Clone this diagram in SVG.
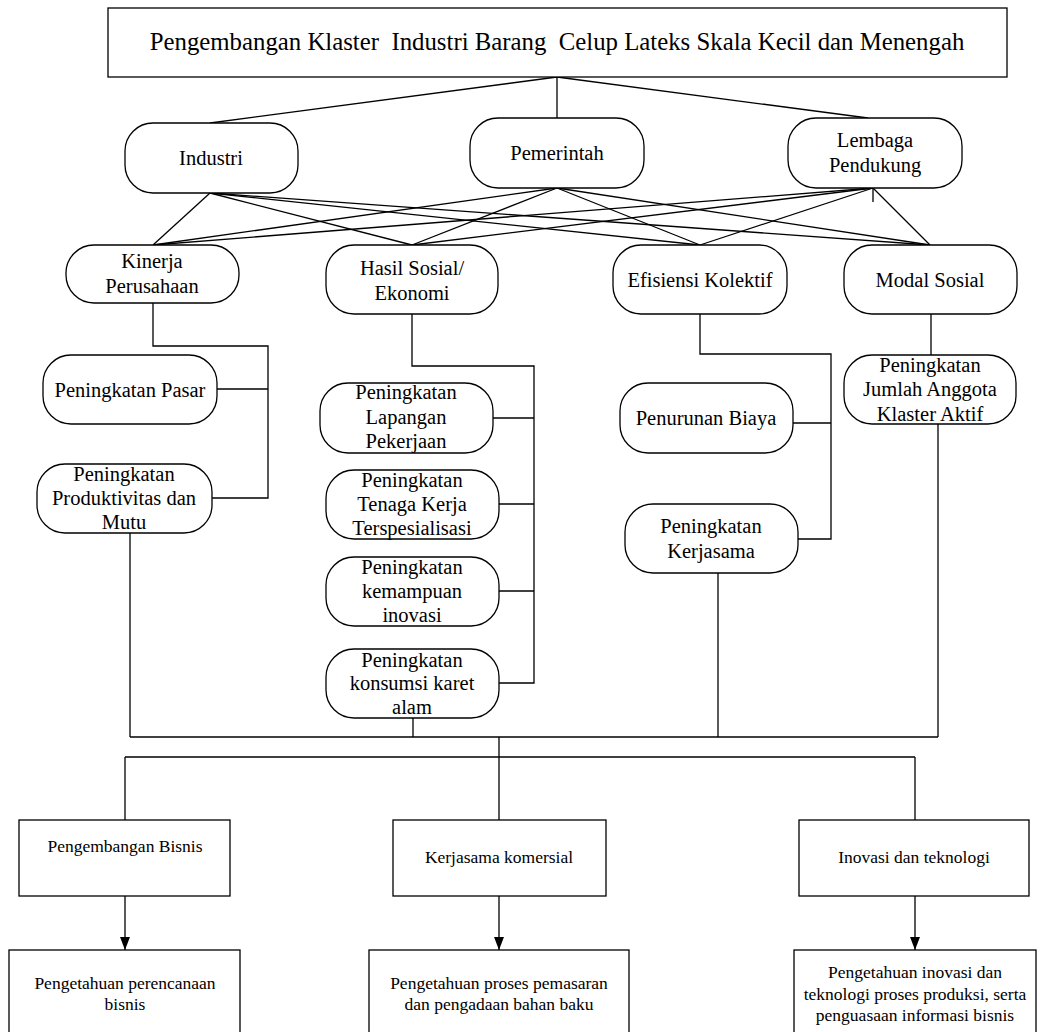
<svg xmlns="http://www.w3.org/2000/svg" width="1040" height="1032" viewBox="0 0 1040 1032">
  <style>
    .box { fill: #ffffff; stroke: #000000; stroke-width: 1.3; }
    .conn line, .conn polyline { fill: none; stroke: #000000; stroke-width: 1.3; }
    text { font-family: "Liberation Serif", "Times New Roman", serif; fill: #000000; text-anchor: middle; }
    .t1 { font-size: 24.8px; }
    .t2 { font-size: 20.5px; }
    .t3 { font-size: 17.5px; }
  </style>
  <defs>
    <marker id="head" markerWidth="13" markerHeight="17" refX="17" refY="6.5" orient="auto" markerUnits="userSpaceOnUse" viewBox="0 0 17 13">
      <path d="M0,0 L17,6.5 L0,13 Z" fill="#000000"/>
    </marker>
  </defs>

  <!-- connectors -->
  <g class="conn" id="connectors">
    <!-- title to actors -->
    <line x1="557" y1="77" x2="210" y2="123"/>
    <line x1="557" y1="77" x2="557" y2="118"/>
    <line x1="557" y1="77" x2="868" y2="118"/>
    <!-- actors to outcome groups -->
    <line x1="210" y1="193" x2="153" y2="245"/>
    <line x1="210" y1="193" x2="412" y2="245"/>
    <line x1="210" y1="193" x2="700" y2="245"/>
    <line x1="210" y1="193" x2="930" y2="245"/>
    <line x1="557" y1="188" x2="153" y2="245"/>
    <line x1="557" y1="188" x2="412" y2="245"/>
    <line x1="557" y1="188" x2="700" y2="245"/>
    <line x1="557" y1="188" x2="930" y2="245"/>
    <line x1="873" y1="188" x2="153" y2="245"/>
    <line x1="873" y1="188" x2="412" y2="245"/>
    <line x1="873" y1="188" x2="700" y2="245"/>
    <line x1="873" y1="188" x2="930" y2="245"/>
    <line x1="873" y1="188" x2="873" y2="202"/>
    <!-- Kinerja Perusahaan branch -->
    <polyline points="153,303 153,346 268,346 268,498 212,498"/>
    <line x1="217" y1="389" x2="268" y2="389"/>
    <!-- Hasil Sosial/Ekonomi branch -->
    <polyline points="412,314 412,366 534,366 534,683 499,683"/>
    <line x1="493" y1="418" x2="534" y2="418"/>
    <line x1="499" y1="504" x2="534" y2="504"/>
    <line x1="499" y1="591" x2="534" y2="591"/>
    <!-- Efisiensi Kolektif branch -->
    <polyline points="700,314 700,354 831,354 831,539 798,539"/>
    <line x1="788" y1="423" x2="831" y2="423"/>
    <!-- Modal Sosial branch -->
    <line x1="931" y1="314" x2="931" y2="355"/>
    <!-- collector bus -->
    <line x1="130" y1="533" x2="130" y2="737"/>
    <line x1="413" y1="718" x2="413" y2="737"/>
    <line x1="718" y1="573" x2="718" y2="737"/>
    <line x1="938" y1="418" x2="938" y2="737"/>
    <line x1="130" y1="737" x2="938" y2="737"/>
    <line x1="499" y1="737" x2="499" y2="757"/>
    <!-- distribution bus -->
    <line x1="125" y1="757" x2="915" y2="757"/>
    <line x1="125" y1="757" x2="125" y2="820"/>
    <line x1="499" y1="757" x2="499" y2="820"/>
    <line x1="915" y1="757" x2="915" y2="820"/>
    <!-- program to knowledge arrows -->
    <line x1="125" y1="896" x2="125" y2="950" marker-end="url(#head)"/>
    <line x1="499" y1="896" x2="499" y2="950" marker-end="url(#head)"/>
    <line x1="915" y1="896" x2="915" y2="950" marker-end="url(#head)"/>
  </g>

  <!-- title -->
  <g id="title">
    <rect class="box" x="108" y="8" width="899" height="69"/>
    <text class="t1" x="557" y="50" xml:space="preserve">Pengembangan Klaster  Industri Barang  Celup Lateks Skala Kecil dan Menengah</text>
  </g>

  <!-- actors -->
  <g id="industri">
    <rect class="box" x="125" y="123" width="173" height="70" rx="28" ry="28"/>
    <text class="t2" x="211" y="165">Industri</text>
  </g>
  <g id="pemerintah">
    <rect class="box" x="470" y="118" width="174" height="70" rx="28" ry="28"/>
    <text class="t2" x="557" y="160">Pemerintah</text>
  </g>
  <g id="lembaga-pendukung">
    <rect class="box" x="788" y="118" width="174" height="70" rx="28" ry="28"/>
    <text class="t2" x="875" y="147">Lembaga</text>
    <text class="t2" x="875" y="172">Pendukung</text>
  </g>

  <!-- outcome groups -->
  <g id="kinerja-perusahaan">
    <rect class="box" x="66" y="245" width="173" height="58" rx="28" ry="28"/>
    <text class="t2" x="152" y="268">Kinerja</text>
    <text class="t2" x="152" y="293">Perusahaan</text>
  </g>
  <g id="hasil-sosial-ekonomi">
    <rect class="box" x="326" y="245" width="172" height="69" rx="28" ry="28"/>
    <text class="t2" x="412" y="275">Hasil Sosial/</text>
    <text class="t2" x="412" y="300">Ekonomi</text>
  </g>
  <g id="efisiensi-kolektif">
    <rect class="box" x="613" y="245" width="174" height="69" rx="28" ry="28"/>
    <text class="t2" x="700" y="287">Efisiensi Kolektif</text>
  </g>
  <g id="modal-sosial">
    <rect class="box" x="844" y="245" width="173" height="69" rx="28" ry="28"/>
    <text class="t2" x="930" y="287">Modal Sosial</text>
  </g>

  <!-- indicators -->
  <g id="peningkatan-pasar">
    <rect class="box" x="43" y="355" width="174" height="69" rx="28" ry="28"/>
    <text class="t2" x="130" y="397">Peningkatan Pasar</text>
  </g>
  <g id="peningkatan-produktivitas">
    <rect class="box" x="37" y="464" width="175" height="69" rx="28" ry="28"/>
    <text class="t2" x="124" y="481">Peningkatan</text>
    <text class="t2" x="124" y="505">Produktivitas dan</text>
    <text class="t2" x="124" y="529">Mutu</text>
  </g>
  <g id="peningkatan-lapangan">
    <rect class="box" x="320" y="383" width="173" height="70" rx="28" ry="28"/>
    <text class="t2" x="406" y="399">Peningkatan</text>
    <text class="t2" x="406" y="424">Lapangan</text>
    <text class="t2" x="406" y="448">Pekerjaan</text>
  </g>
  <g id="peningkatan-tenaga-kerja">
    <rect class="box" x="326" y="470" width="173" height="69" rx="28" ry="28"/>
    <text class="t2" x="412" y="487">Peningkatan</text>
    <text class="t2" x="412" y="511">Tenaga Kerja</text>
    <text class="t2" x="412" y="535">Terspesialisasi</text>
  </g>
  <g id="peningkatan-inovasi">
    <rect class="box" x="326" y="557" width="173" height="69" rx="28" ry="28"/>
    <text class="t2" x="412" y="574">Peningkatan</text>
    <text class="t2" x="412" y="598">kemampuan</text>
    <text class="t2" x="412" y="622">inovasi</text>
  </g>
  <g id="peningkatan-konsumsi">
    <rect class="box" x="326" y="649" width="173" height="69" rx="28" ry="28"/>
    <text class="t2" x="412" y="667">Peningkatan</text>
    <text class="t2" x="412" y="690">konsumsi karet</text>
    <text class="t2" x="412" y="714">alam</text>
  </g>
  <g id="penurunan-biaya">
    <rect class="box" x="620" y="383" width="173" height="70" rx="28" ry="28"/>
    <text class="t2" x="706" y="425">Penurunan Biaya</text>
  </g>
  <g id="peningkatan-kerjasama">
    <rect class="box" x="625" y="504" width="173" height="69" rx="28" ry="28"/>
    <text class="t2" x="711" y="533">Peningkatan</text>
    <text class="t2" x="711" y="558">Kerjasama</text>
  </g>
  <g id="peningkatan-anggota">
    <rect class="box" x="844" y="355" width="172" height="69" rx="28" ry="28"/>
    <text class="t2" x="930" y="372">Peningkatan</text>
    <text class="t2" x="930" y="396">Jumlah Anggota</text>
    <text class="t2" x="930" y="421">Klaster Aktif</text>
  </g>

  <!-- programs -->
  <g id="pengembangan-bisnis">
    <rect class="box" x="19" y="820" width="211" height="76"/>
    <text class="t3" x="125" y="852">Pengembangan Bisnis</text>
  </g>
  <g id="kerjasama-komersial">
    <rect class="box" x="393" y="820" width="213" height="76"/>
    <text class="t3" x="499" y="863">Kerjasama komersial</text>
  </g>
  <g id="inovasi-teknologi">
    <rect class="box" x="799" y="820" width="230" height="76"/>
    <text class="t3" x="914" y="863">Inovasi dan teknologi</text>
  </g>

  <!-- knowledge outcomes -->
  <g id="pengetahuan-perencanaan">
    <rect class="box" x="9" y="950" width="231" height="90"/>
    <text class="t3" x="125" y="989">Pengetahuan perencanaan</text>
    <text class="t3" x="125" y="1010">bisnis</text>
  </g>
  <g id="pengetahuan-pemasaran">
    <rect class="box" x="369" y="950" width="260" height="90"/>
    <text class="t3" x="499" y="989">Pengetahuan proses pemasaran</text>
    <text class="t3" x="499" y="1010">dan pengadaan bahan baku</text>
  </g>
  <g id="pengetahuan-inovasi">
    <rect class="box" x="794" y="950" width="242" height="90"/>
    <text class="t3" x="915" y="978">Pengetahuan inovasi dan</text>
    <text class="t3" x="915" y="1000">teknologi proses produksi, serta</text>
    <text class="t3" x="915" y="1021">penguasaan informasi bisnis</text>
  </g>
</svg>
